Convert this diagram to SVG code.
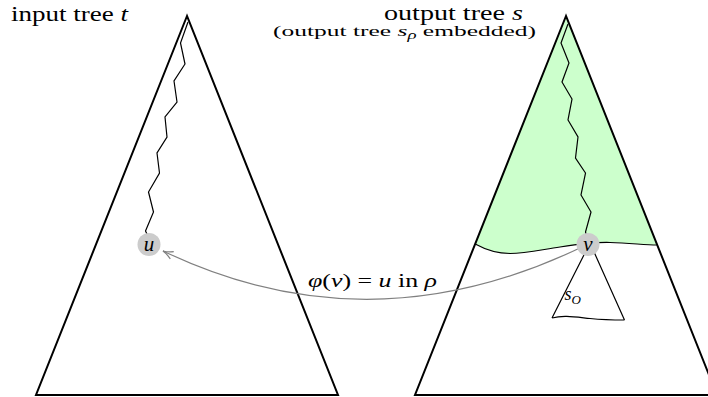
<svg xmlns="http://www.w3.org/2000/svg" width="708" height="397" viewBox="0 0 708 397">
  <style>
    text { font-family: "Liberation Serif", "DejaVu Serif", serif; fill: #000; }
    .it { font-style: italic; }
    .tri { fill: none; stroke: #000; stroke-width: 2; stroke-linejoin: miter; }
    .zig { fill: none; stroke: #000; stroke-width: 1.2; stroke-linejoin: miter; }
    .thin { fill: none; stroke: #000; stroke-width: 1.2; }
    .node { fill: #cccccc; stroke: none; }
    .conn { fill: none; stroke: #808080; stroke-width: 1.2; }
  </style>
  <defs>
    <marker id="arr" viewBox="0 0 12 10" refX="11" refY="5" markerWidth="12" markerHeight="10" orient="auto" markerUnits="userSpaceOnUse">
      <path d="M1,1 Q6,4 11,5 Q6,6 1,9" fill="none" stroke="#808080" stroke-width="1.2"/>
    </marker>
  </defs>
  <rect width="708" height="397" fill="#fff"/>

  <g id="tree-t">
    <polygon class="tri" points="187,16 36,395 338,395"/>
    <polyline class="zig" points="188,22 180.5,43 185,64 174,81 177,102 165,117 167,137 157,153 159.5,173 148.5,192 153.5,212 145.5,231 148,236"/>
    <text x="11" y="21" font-size="21" textLength="117" lengthAdjust="spacingAndGlyphs">input tree <tspan class="it">t</tspan></text>
  </g>

  <g id="tree-s">
    <path d="M566,16 L475.2,244 C488,251 500,253.5 510,253.5 C525,253.5 540,250 560,247 C580,244 595,242 610,242.5 C630,243 645,245 656.8,245 Z" fill="#ccffcc" stroke="none"/>
    <polygon class="tri" points="566,16 415,395 717,395"/>
    <path class="thin" d="M475.2,244 C488,251 500,253.5 510,253.5 C525,253.5 540,250 560,247 C580,244 595,242 610,242.5 C630,243 645,245 656.8,245"/>
    <polyline class="zig" points="568,24 561,43 569,63 562,82 572,99 568,120 578,137 575.5,158 585.5,173 581,195 591,212 585.5,232 587,238"/>
    <text x="384" y="19.5" font-size="20" textLength="139" lengthAdjust="spacingAndGlyphs">output tree <tspan class="it">s</tspan></text>
    <text x="273" y="36" font-size="15.5" textLength="263" lengthAdjust="spacingAndGlyphs">(output tree <tspan class="it">s</tspan><tspan class="it" font-size="11.5" dy="3">ρ</tspan><tspan dy="-3"> embedded)</tspan></text>
  </g>

  <g id="subtree-sO">
    <path class="thin" d="M590,243 L552,318 M590,243 L624.5,320 M552,318 C563,315 575,317 590,318.5 C605,320 615,320 624.5,320"/>
    <text x="564.5" y="300" font-size="18" class="it">s<tspan font-size="13" dy="3.5">O</tspan></text>
  </g>

  <g id="connectors">
    <path class="conn" d="M584,246 Q370,350 163,251" marker-end="url(#arr)"/>
    <text x="308" y="286.5" font-size="19" textLength="129" lengthAdjust="spacingAndGlyphs"><tspan class="it">φ</tspan>(<tspan class="it">v</tspan>) = <tspan class="it">u</tspan> in <tspan class="it">ρ</tspan></text>
  </g>

  <g id="node-u">
    <circle class="node" cx="149" cy="244.5" r="11.5"/>
    <text x="149" y="250.5" font-size="21" class="it" text-anchor="middle">u</text>
  </g>

  <g id="node-v">
    <circle class="node" cx="588" cy="244.5" r="11.5"/>
    <text x="588" y="250.5" font-size="21" class="it" text-anchor="middle">v</text>
  </g>
</svg>
